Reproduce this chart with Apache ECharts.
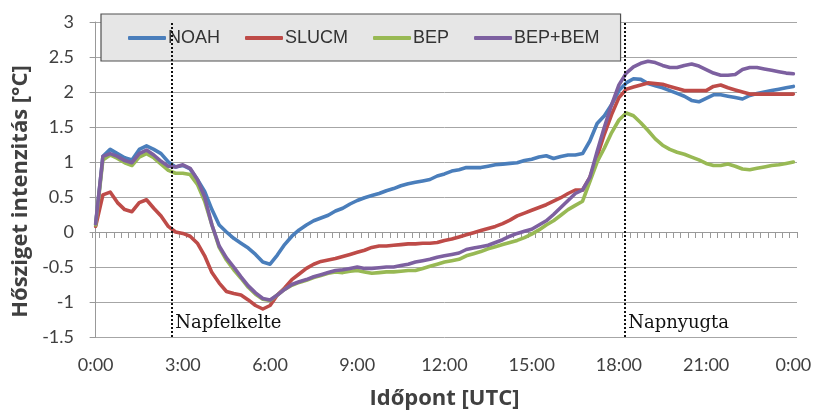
<!DOCTYPE html>
<html>
<head>
<meta charset="utf-8">
<script src="https://cdn.jsdelivr.net/npm/echarts@6/dist/echarts.min.js"></script>
<style>html,body{margin:0;padding:0;background:#fff;}#c{width:813px;height:410px;}</style>
</head>
<body>
<div id="c"></div>
<script>
// 15-minute time steps, 0:00 .. 24:00 (shown as 0:00)
const categories = [];
for (let h = 0; h < 24; h++) { for (let m = 0; m < 60; m += 15) { categories.push(h + ':' + (m === 0 ? '00' : m)); } }
categories.push('0:00');

const seriesNames = ['NOAH', 'SLUCM', 'BEP', 'BEP+BEM'];

const noah = [0.1,1.08,1.18,1.12,1.06,1.03,1.18,1.23,1.18,1.12,1.0,0.93,0.95,0.9,0.75,0.58,0.32,0.1,0.0,-0.09,
-0.16,-0.23,-0.32,-0.43,-0.46,-0.33,-0.18,-0.06,0.03,0.1,0.16,0.2,0.24,0.3,0.34,0.4,0.45,0.49,0.52,0.55,
0.59,0.62,0.66,0.69,0.71,0.73,0.75,0.8,0.83,0.87,0.89,0.92,0.92,0.92,0.94,0.96,0.97,0.98,0.99,1.02,
1.04,1.07,1.09,1.05,1.08,1.1,1.1,1.12,1.3,1.55,1.66,1.82,2.02,2.13,2.19,2.18,2.12,2.09,2.06,2.02,
1.98,1.94,1.88,1.86,1.91,1.96,1.96,1.94,1.92,1.9,1.95,1.98,2.0,2.02,2.04,2.06,2.08];

const slucm = [0.08,0.53,0.57,0.42,0.32,0.29,0.42,0.46,0.34,0.23,0.08,0.0,-0.02,-0.06,-0.16,-0.34,-0.58,-0.73,-0.85,-0.88,
-0.9,-0.97,-1.05,-1.1,-1.05,-0.9,-0.8,-0.68,-0.6,-0.52,-0.46,-0.42,-0.4,-0.38,-0.35,-0.32,-0.29,-0.26,-0.22,-0.2,
-0.2,-0.19,-0.18,-0.17,-0.17,-0.16,-0.16,-0.15,-0.12,-0.1,-0.07,-0.04,-0.01,0.02,0.05,0.08,0.12,0.17,0.23,0.27,
0.31,0.35,0.39,0.44,0.49,0.55,0.6,0.6,0.78,1.08,1.4,1.68,1.92,2.04,2.07,2.1,2.13,2.12,2.11,2.08,
2.05,2.02,2.02,2.02,2.02,2.08,2.1,2.06,2.03,2.0,1.97,1.97,1.97,1.97,1.97,1.97,1.97];

const bep = [0.1,1.03,1.1,1.05,0.99,0.95,1.07,1.12,1.06,0.97,0.88,0.84,0.84,0.82,0.68,0.44,0.1,-0.22,-0.4,-0.54,
-0.66,-0.79,-0.89,-0.96,-0.98,-0.9,-0.82,-0.76,-0.72,-0.69,-0.65,-0.62,-0.59,-0.57,-0.58,-0.56,-0.55,-0.57,-0.59,-0.58,
-0.57,-0.57,-0.56,-0.55,-0.55,-0.52,-0.49,-0.46,-0.43,-0.41,-0.39,-0.34,-0.31,-0.28,-0.24,-0.21,-0.18,-0.15,-0.12,-0.08,
-0.03,0.03,0.1,0.16,0.24,0.32,0.38,0.44,0.72,1.0,1.2,1.42,1.6,1.7,1.66,1.56,1.45,1.33,1.24,1.18,
1.14,1.11,1.07,1.03,0.98,0.95,0.95,0.97,0.94,0.9,0.89,0.91,0.93,0.95,0.96,0.98,1.0];

const bepBem = [0.12,1.08,1.12,1.08,1.02,0.99,1.12,1.17,1.1,1.01,0.94,0.93,0.96,0.91,0.75,0.5,0.1,-0.2,-0.37,-0.5,
-0.64,-0.77,-0.87,-0.95,-0.97,-0.9,-0.82,-0.75,-0.71,-0.68,-0.64,-0.61,-0.58,-0.55,-0.54,-0.52,-0.5,-0.52,-0.52,-0.51,
-0.5,-0.5,-0.48,-0.46,-0.43,-0.41,-0.39,-0.36,-0.34,-0.32,-0.3,-0.25,-0.23,-0.21,-0.19,-0.15,-0.11,-0.06,-0.02,0.01,
0.04,0.1,0.16,0.25,0.35,0.45,0.55,0.6,0.78,1.15,1.5,1.82,2.1,2.27,2.36,2.41,2.44,2.42,2.38,2.35,
2.35,2.38,2.4,2.37,2.32,2.27,2.24,2.24,2.25,2.32,2.35,2.35,2.33,2.31,2.29,2.27,2.26];

const seriesValues = [noah, slucm, bep, bepBem];
const seriesColors = ['#4A7EBB', '#BE4B48', '#98B954', '#7D60A0'];

// sunrise / sunset markers, minutes after 0:00 UTC
const eventNames = ['Napfelkelte', 'Napnyugta'];
const eventMinutes = [158, 1093];

const chart = echarts.init(document.getElementById('c'), null, {renderer: 'canvas'});

const lineSeries = seriesNames.map((n, k) => ({
  name: n, type: 'line', xAxisIndex: 0, yAxisIndex: 0,
  data: seriesValues[k], symbol: 'none', showSymbol: false,
  lineStyle: {color: seriesColors[k], width: 3.6, cap: 'round', join: 'round'},
  itemStyle: {color: seriesColors[k]},
  emphasis: {disabled: true}, z: 3
}));

lineSeries.push({
  name: 'events', type: 'line', xAxisIndex: 2, yAxisIndex: 0, data: [], symbol: 'none',
  markLine: {
    silent: true, symbol: ['none', 'none'], animation: false,
    label: {show: false},
    lineStyle: {color: '#111', width: 2, type: [2, 2]},
    data: eventMinutes.map(m => ({xAxis: m}))
  },
  markPoint: {
    silent: true, symbol: 'circle', symbolSize: 0, animation: false,
    label: {show: true, position: 'right', distance: 3, color: '#111',
      fontFamily: 'DejaVu Serif', fontSize: 18,
      formatter: p => p.name},
    data: eventMinutes.map((m, k) => ({name: eventNames[k], coord: [m, -1.3]}))
  }
});

chart.setOption({
  animation: false,
  backgroundColor: '#ffffff',
  grid: {left: 92, right: 16, top: 22, bottom: 73, containLabel: false, outerBoundsMode: 'none'},
  legend: {
    data: seriesNames, left: 101, top: 14,
    backgroundColor: '#e6e6e6', borderColor: '#505050', borderWidth: 1.2,
    padding: [15, 21, 14, 27], itemGap: 25, itemWidth: 38, itemHeight: 4,
    icon: 'roundRect',
    textStyle: {fontFamily: 'Liberation Sans', fontSize: 18, color: '#333', padding: [0, 0, 0, -3]}
  },
  xAxis: [
    {
      type: 'category', data: categories, boundaryGap: true, position: 'bottom',
      axisLine: {show: false, onZero: false}, axisTick: {show: false},
      axisLabel: {interval: 11, margin: 19, color: '#404040', fontFamily: 'Lato', fontSize: 18},
      splitLine: {show: false},
      name: 'Időpont [UTC]', nameLocation: 'middle', nameGap: 51,
      nameTextStyle: {fontFamily: 'Open Sans', fontWeight: 'bold', fontSize: 22, color: '#404040'}
    },
    {
      type: 'category', data: categories, boundaryGap: true, position: 'bottom',
      axisLine: {show: true, onZero: true, lineStyle: {color: '#999', width: 1}},
      axisTick: {show: true, interval: 0, length: 6, lineStyle: {color: '#999'}},
      axisLabel: {show: false}, splitLine: {show: false}
    },
    {
      type: 'value', min: -7.5, max: 1447.5, show: false
    }
  ],
  yAxis: {
    type: 'value', min: -1.5, max: 3, interval: 0.5,
    axisLine: {show: true, lineStyle: {color: '#999', width: 1}},
    axisTick: {show: true, length: 6, lineStyle: {color: '#999'}},
    axisLabel: {margin: 18, color: '#404040', fontFamily: 'Lato', fontSize: 18},
    splitLine: {show: true, lineStyle: {color: '#a6a6a6', width: 1}},
    name: 'Hősziget intenzitás [°C]', nameLocation: 'middle', nameGap: 57,
    nameTextStyle: {fontFamily: 'Open Sans', fontWeight: 'bold', fontSize: 22, color: '#404040', padding: [0, 24, 0, 0]}
  },
  series: lineSeries
});
</script>
</body>
</html>
